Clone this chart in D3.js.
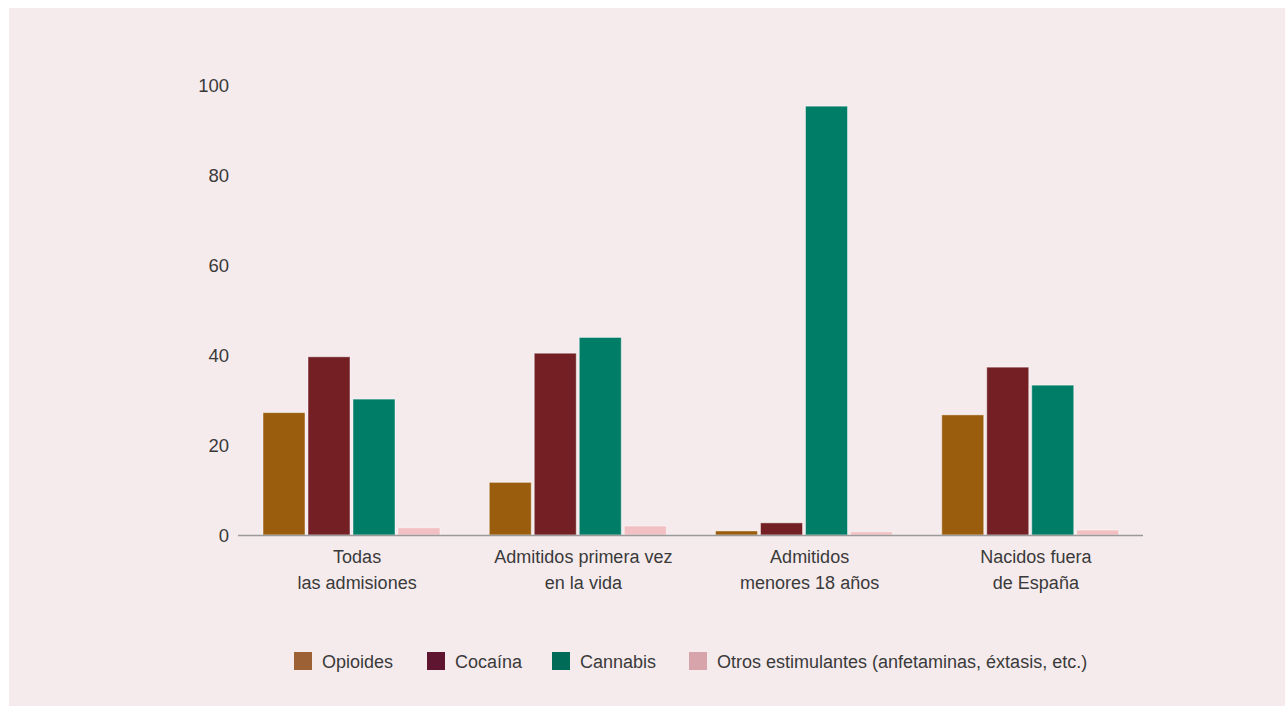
<!DOCTYPE html>
<html><head><meta charset="utf-8">
<script src="https://cdn.jsdelivr.net/npm/d3@7"></script>
<style>
html,body{margin:0;padding:0;background:#fff;}
svg{display:block;}
text{font-family:"Liberation Sans",Arial,sans-serif;}
</style></head>
<body><svg id="c" width="1285" height="706"></svg>
<script>
const categories = [["Todas","las admisiones"],["Admitidos primera vez","en la vida"],["Admitidos","menores 18 años"],["Nacidos fuera","de España"]];
const seriesNames = ["Opioides","Cocaína","Cannabis","Otros estimulantes (anfetaminas, éxtasis, etc.)"];
const opioides = [27.2, 11.7, 0.9, 26.7];
const cocaina = [39.6, 40.4, 2.7, 37.3];
const cannabis = [30.2, 43.9, 95.3, 33.3];
const otros = [1.6, 2.0, 0.7, 1.1];
const yTicks = [0,20,40,60,80,100];
const barColors = ["#9a5d0e","#731f24","#007d66","#f2c0c2"];
const legendColors = ["#9c6135","#5f1530","#006b56","#d8a4ab"];

const series = [opioides, cocaina, cannabis, otros];
const svg = d3.select("#c");
svg.append("rect").attr("x",9).attr("y",8).attr("width",1276).attr("height",698).attr("fill","#f5ebed");

const x0 = d3.scaleBand().domain(d3.range(categories.length)).range([238,1143]).paddingInner(0).paddingOuter(0);
const x1 = d3.scaleBand().domain(d3.range(series.length)).range([25,25+177]).paddingInner(3/45).paddingOuter(0);
const y = d3.scaleLinear().domain([0,100]).range([535,85]);

const txtCol = "#3a3a3a";

// y tick labels
svg.append("g").selectAll("text").data(yTicks).join("text")
  .attr("x",229).attr("y",d=>y(d)).attr("dy","0.36em").attr("text-anchor","end")
  .attr("font-size",18.5).attr("fill",txtCol).text(d=>d);

// bars
const g = svg.append("g");
categories.forEach((c,i)=>{
  series.forEach((s,j)=>{
    g.append("rect")
      .attr("x", x0(i)+x1(j))
      .attr("y", y(s[i]))
      .attr("width", x1.bandwidth())
      .attr("height", y(0)-y(s[i]))
      .attr("fill", barColors[j])
      .attr("stroke","rgba(255,255,255,0.45)").attr("stroke-width",1);
  });
});

// baseline
svg.append("line").attr("x1",238).attr("x2",1143).attr("y1",y(0)+0.5).attr("y2",y(0)+0.5)
  .attr("stroke","#9a9a9a").attr("stroke-width",1.6);

// category labels
const cl = svg.append("g");
categories.forEach((c,i)=>{
  const t = cl.append("text").attr("text-anchor","middle").attr("font-size",18).attr("fill",txtCol);
  c.forEach((line,k)=>{
    t.append("tspan").attr("x", x0(i)+x0.bandwidth()/2+6).attr("y", 557+k*26).attr("dy","0.36em").text(line);
  });
});

// legend
const legX = [294,427,552,689];
const lg = svg.append("g");
seriesNames.forEach((n,j)=>{
  lg.append("rect").attr("x",legX[j]).attr("y",652).attr("width",18).attr("height",18).attr("fill",legendColors[j]);
  lg.append("text").attr("x",legX[j]+28).attr("y",662).attr("dy","0.36em").attr("font-size",18).attr("fill",txtCol).text(n);
});
</script></body></html>
